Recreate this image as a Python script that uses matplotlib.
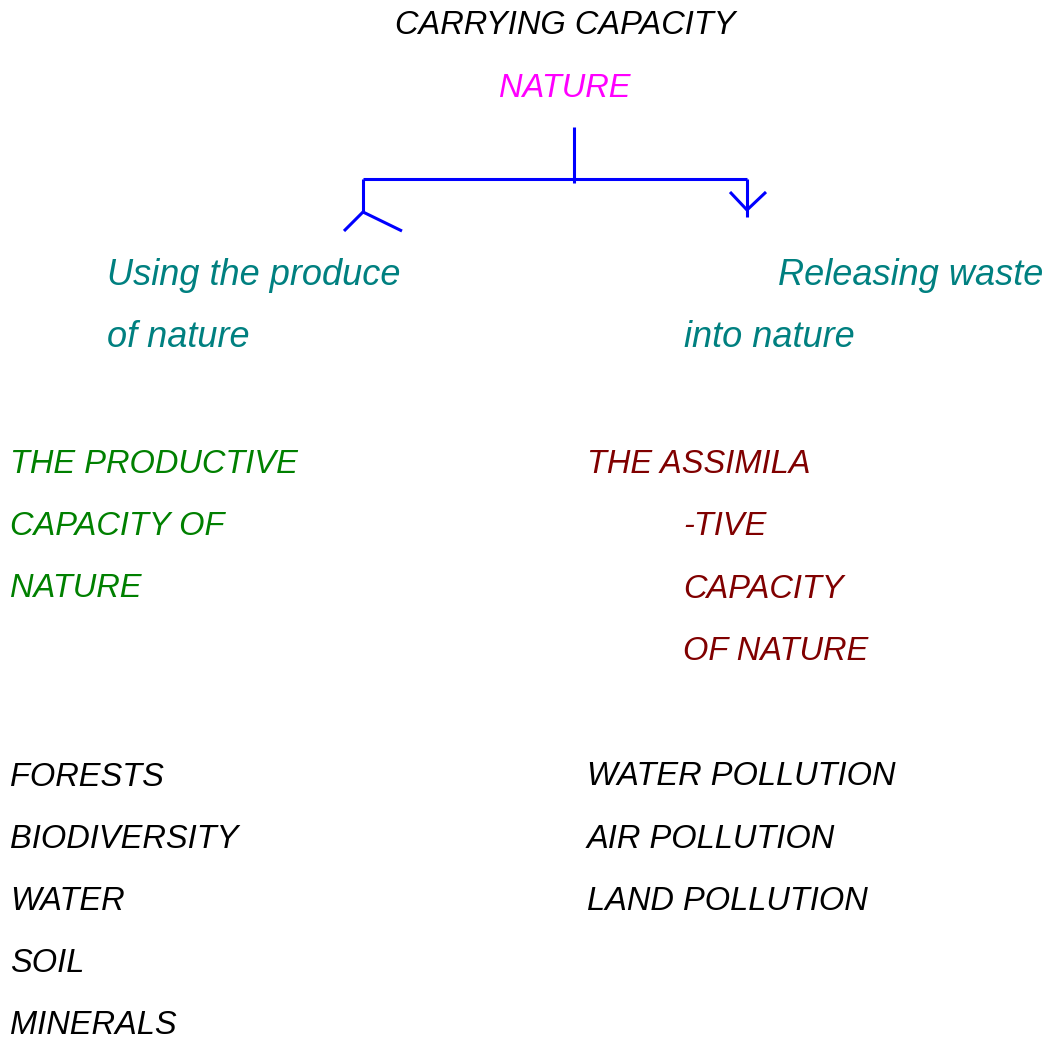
"""carrying_capacity.py — concept sketch: carrying capacity of nature"""

import matplotlib
matplotlib.use("Agg")
import matplotlib.pyplot as plt

W, H = 1049, 1039
FONT = "Liberation Sans"

COLOR_TITLE = "#000000"
COLOR_ROOT = "#FF00FF"
COLOR_BRANCH = "#008080"
COLOR_LEFT = "#008000"
COLOR_RIGHT = "#800000"
COLOR_LINE = "#0000FF"

TITLE = "CARRYING CAPACITY"
ROOT = "NATURE"
BRANCH_LEFT = ["Using the produce", "of nature"]
BRANCH_RIGHT = ["Releasing waste", "into nature"]
CAP_LEFT = ["THE PRODUCTIVE", "CAPACITY OF", "NATURE"]
CAP_RIGHT = ["THE ASSIMILA", "-TIVE", "CAPACITY", "OF NATURE"]
ITEMS_LEFT = ["FORESTS", "BIODIVERSITY", "WATER", "SOIL", "MINERALS"]
ITEMS_RIGHT = ["WATER POLLUTION", "AIR POLLUTION", "LAND POLLUTION"]

# connector strokes in pixel space
CONNECTORS = [
    [(574, 127), (574, 183)],
    [(363, 179), (747, 179)],
    [(363, 179), (363, 213)],
    [(344, 231), (363, 212), (402, 231)],
    [(747, 179), (747, 217)],
    [(730, 192), (747, 210), (766, 192)],
]


def put(ax, s, x, y, color, size=23.5, ha="left"):
    ax.text(x, y, s, color=color, fontsize=size, ha=ha, va="baseline",
            family=FONT, style="italic")


def main():
    fig = plt.figure(figsize=(W / 100, H / 100), dpi=100)
    ax = fig.add_axes([0, 0, 1, 1])
    ax.set_xlim(0, W)
    ax.set_ylim(H, 0)
    ax.axis("off")

    put(ax, TITLE, 565, 34, COLOR_TITLE, ha="center")
    put(ax, ROOT, 565, 97, COLOR_ROOT, ha="center")

    for seg in CONNECTORS:
        xs, ys = zip(*seg)
        ax.plot(xs, ys, color=COLOR_LINE, linewidth=2.2, solid_capstyle="butt")

    put(ax, BRANCH_LEFT[0], 107, 285, COLOR_BRANCH, size=26)
    put(ax, BRANCH_LEFT[1], 107, 347, COLOR_BRANCH, size=26)
    put(ax, BRANCH_RIGHT[0], 778, 285, COLOR_BRANCH, size=26)
    put(ax, BRANCH_RIGHT[1], 684, 347, COLOR_BRANCH, size=26)

    for i, s in enumerate(CAP_LEFT):
        put(ax, s, 10, 473 + i * 62, COLOR_LEFT)
    put(ax, CAP_RIGHT[0], 587, 473, COLOR_RIGHT)
    for i, s in enumerate(CAP_RIGHT[1:]):
        put(ax, s, 683, 535 + i * 62.5, COLOR_RIGHT)

    for i, s in enumerate(ITEMS_LEFT):
        put(ax, s, 10, 786 + i * 62, COLOR_TITLE)
    for i, s in enumerate(ITEMS_RIGHT):
        put(ax, s, 587, 785 + i * 62.5, COLOR_TITLE)

    fig.savefig("out.png", dpi=100, facecolor="white")
    plt.close(fig)


if __name__ == "__main__":
    main()
